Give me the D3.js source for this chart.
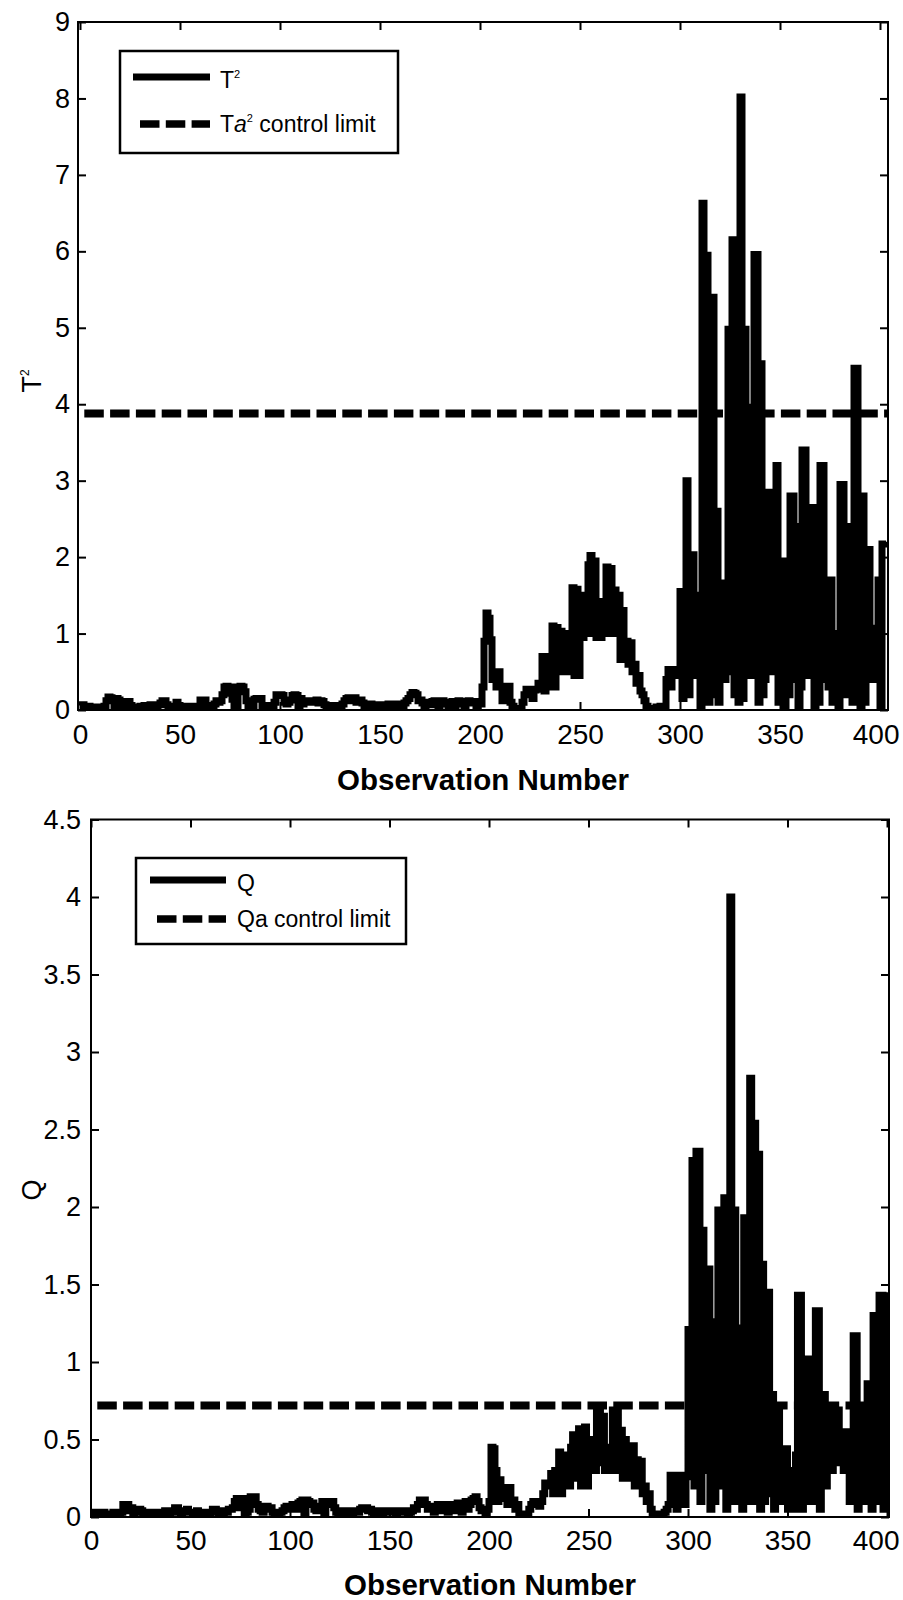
<!DOCTYPE html>
<html><head><meta charset="utf-8">
<script src="https://cdn.jsdelivr.net/npm/d3@7"></script>
<style>
body{margin:0;background:#fff}
svg{display:block}
text{font-family:'Liberation Sans',Arial,Helvetica,sans-serif;fill:#000;white-space:pre}
</style>
</head><body>
<svg id="c" width="903" height="1600"></svg>
<script>
// ---------- data ----------
const obsTicks = [0,50,100,150,200,250,300,350,400];
const t2Ticks = [0,1,2,3,4,5,6,7,8,9];
const qTicks = [0,0.5,1,1.5,2,2.5,3,3.5,4,4.5];
const t2Limit = 3.88;
const qLimit = 0.72;
const xLabel = "Observation Number";

const t2Values = [
0.06,0.07,0.05,0.04,0.05,0.03,0.03,0.04,0.02,0.03,
0.03,0.04,0.05,0.12,0.17,0.16,0.15,0.02,0.15,0.13,
0.08,0.05,0.11,0.1,0.11,0.06,0.04,0.03,0.02,0.04,
0.05,0.04,0.06,0.06,0.05,0.07,0.06,0.05,0.06,0.07,
0.09,0.12,0.12,0.07,0.05,0.04,0.04,0.05,0.1,0.06,
0.04,0.05,0.05,0.04,0.05,0.04,0.05,0.04,0.04,0.05,
0.13,0.12,0.13,0.06,0.05,0.06,0.04,0.08,0.12,0.1,
0.12,0.2,0.3,0.31,0.22,0.3,0.14,0.04,0.06,0.3,
0.31,0.3,0.24,0.12,0.05,0.04,0.06,0.14,0.15,0.14,
0.15,0.06,0.04,0.05,0.04,0.06,0.05,0.1,0.2,0.2,
0.2,0.19,0.1,0.08,0.1,0.13,0.19,0.2,0.19,0.03,
0.15,0.08,0.1,0.12,0.1,0.1,0.12,0.1,0.13,0.09,
0.12,0.11,0.07,0.05,0.06,0.04,0.05,0.05,0.06,0.04,
0.05,0.08,0.12,0.15,0.16,0.12,0.14,0.16,0.1,0.12,
0.13,0.09,0.05,0.06,0.04,0.08,0.06,0.05,0.07,0.06,
0.07,0.06,0.05,0.07,0.08,0.06,0.05,0.06,0.08,0.07,
0.06,0.05,0.09,0.12,0.15,0.2,0.23,0.22,0.2,0.12,
0.13,0.09,0.06,0.08,0.1,0.07,0.11,0.12,0.09,0.05,
0.1,0.12,0.08,0.1,0.06,0.1,0.11,0.05,0.1,0.12,
0.08,0.11,0.04,0.1,0.12,0.1,0.09,0.11,0.06,0.08,
0.08,0.3,0.9,1.27,1.2,0.92,0.4,0.5,0.3,0.5,
0.3,0.12,0.31,0.2,0.31,0.1,0.05,0.02,0.0,0.01,
0.02,0.1,0.2,0.27,0.25,0.27,0.15,0.26,0.27,0.35,
0.3,0.7,0.25,0.7,0.3,0.6,1.1,0.3,1.08,0.5,
1.03,0.5,1.0,0.5,0.55,1.0,1.6,0.45,1.58,0.45,
1.5,0.95,1.5,1.0,1.9,2.02,1.0,1.95,0.95,1.42,
0.95,1.3,1.0,1.87,1.05,1.85,1.0,1.57,1.0,1.5,
0.66,1.3,0.66,0.9,0.6,0.88,0.5,0.6,0.35,0.45,
0.25,0.2,0.12,0.05,0.0,0.01,0.0,0.02,0.04,0.02,
0.05,0.0,0.05,0.4,0.53,0.3,0.5,0.53,0.45,0.5,
1.55,0.15,0.6,3.0,0.2,0.9,2.03,0.45,0.5,1.5,
0.05,6.63,0.45,5.95,0.1,5.4,5.4,0.2,2.6,0.1,
0.6,1.66,0.4,0.5,4.98,0.5,6.15,0.2,3.1,0.1,
8.02,0.15,4.98,0.5,3.96,0.45,2.3,5.96,5.96,0.1,
4.53,0.2,0.4,1.2,2.85,0.5,0.6,1.5,3.2,0.1,
0.3,1.95,0.05,1.0,0.2,2.8,2.8,0.4,2.4,0.05,
0.3,3.4,3.4,0.45,0.5,1.6,2.65,0.05,0.8,0.1,
3.2,3.2,0.4,0.5,0.3,1.7,0.1,0.45,1.0,0.05,
2.95,2.95,0.2,0.45,2.4,0.5,0.1,4.47,4.47,0.2,
0.05,2.8,0.1,0.5,2.1,0.45,0.4,1.07,0.5,1.7,
0.05,2.17,2.17,2.2
];

const qValues = [
0.03,0.02,0.03,0.02,0.01,0.02,0.03,0.02,0.01,0.02,
0.02,0.03,0.02,0.01,0.02,0.03,0.08,0.07,0.08,0.04,
0.06,0.02,0.03,0.05,0.05,0.04,0.02,0.01,0.02,0.03,
0.02,0.03,0.02,0.03,0.03,0.02,0.03,0.04,0.03,0.02,
0.03,0.04,0.06,0.06,0.03,0.02,0.03,0.04,0.05,0.03,
0.03,0.02,0.03,0.04,0.02,0.03,0.02,0.03,0.02,0.02,
0.03,0.05,0.05,0.04,0.02,0.03,0.02,0.04,0.03,0.05,
0.05,0.06,0.1,0.12,0.11,0.06,0.12,0.02,0.03,0.05,
0.13,0.12,0.13,0.08,0.05,0.04,0.03,0.07,0.07,0.05,
0.06,0.03,0.02,0.03,0.02,0.03,0.04,0.06,0.07,0.05,
0.07,0.08,0.06,0.05,0.09,0.1,0.11,0.02,0.11,0.1,
0.08,0.09,0.05,0.04,0.06,0.07,0.1,0.02,0.09,0.1,
0.08,0.1,0.06,0.03,0.02,0.03,0.04,0.02,0.03,0.04,
0.03,0.02,0.03,0.04,0.03,0.05,0.06,0.05,0.06,0.04,
0.05,0.03,0.02,0.03,0.04,0.03,0.02,0.03,0.04,0.03,
0.03,0.04,0.03,0.02,0.03,0.04,0.03,0.04,0.03,0.02,
0.03,0.04,0.06,0.05,0.08,0.11,0.1,0.11,0.08,0.05,
0.07,0.05,0.03,0.06,0.08,0.07,0.04,0.08,0.06,0.03,
0.06,0.08,0.04,0.07,0.09,0.06,0.03,0.08,0.1,0.05,
0.08,0.11,0.12,0.13,0.1,0.06,0.04,0.05,0.02,0.05,
0.1,0.45,0.44,0.3,0.1,0.24,0.12,0.19,0.18,0.08,
0.19,0.1,0.11,0.05,0.08,0.02,0.01,0.0,0.01,0.02,
0.05,0.08,0.1,0.09,0.1,0.07,0.1,0.15,0.22,0.2,
0.2,0.28,0.15,0.3,0.2,0.42,0.15,0.4,0.2,0.34,
0.2,0.45,0.53,0.25,0.5,0.57,0.2,0.56,0.58,0.2,
0.45,0.3,0.5,0.3,0.71,0.71,0.35,0.65,0.3,0.4,
0.3,0.45,0.69,0.3,0.68,0.3,0.56,0.25,0.5,0.3,
0.46,0.25,0.46,0.2,0.37,0.2,0.36,0.15,0.2,0.1,
0.15,0.05,0.02,0.0,0.01,0.0,0.02,0.01,0.03,0.05,
0.08,0.27,0.1,0.25,0.05,0.27,0.12,0.27,0.08,0.26,
1.21,0.3,2.3,0.2,2.36,2.36,0.1,1.85,0.3,1.6,
1.6,0.05,1.26,0.1,0.5,1.98,1.98,0.2,2.06,0.05,
1.0,4.0,0.1,1.98,0.1,0.3,1.22,0.05,1.93,0.1,
0.5,2.83,0.1,2.54,0.2,2.34,0.05,1.63,0.1,1.45,
1.45,0.15,0.79,0.05,0.69,0.69,0.1,0.3,0.44,0.44,
0.05,0.3,0.2,0.05,0.4,1.43,1.43,0.05,0.5,0.1,
1.02,1.02,0.1,0.4,1.33,1.33,0.05,0.3,0.79,0.2,
0.72,0.72,0.3,0.5,0.69,0.69,0.35,0.4,0.3,0.55,
0.55,0.1,0.5,1.17,1.17,0.05,0.3,0.72,0.1,0.4,
0.86,0.86,0.05,1.3,1.3,0.1,1.43,1.43,0.05,1.3,
1.45
];

// ---------- drawing ----------
const svg = d3.select('#c');
const defs = svg.append('defs');
const FONT = "'Liberation Sans',Arial,Helvetica,sans-serif";
const DASH = "19.5,6.3";

function panel(o){
  const x = d3.scaleLinear().domain(o.xDomain).range([o.left, o.right]);
  const y = d3.scaleLinear().domain(o.yDomain).range([o.bottom, o.top]);
  const g = svg.append('g');
  const cid = 'clip' + o.id;
  defs.append('clipPath').attr('id', cid).append('rect')
    .attr('x', o.left).attr('y', o.top)
    .attr('width', o.right - o.left).attr('height', o.bottom - o.top);

  const line = d3.line().x((d, i) => x(i)).y(d => y(d)).curve(d3.curveStepAfter);
  g.append('path').datum(o.values).attr('d', line)
    .attr('fill', 'none').attr('stroke', '#000').attr('stroke-width', 7)
    .attr('stroke-linejoin', 'miter').attr('stroke-miterlimit', 10)
    .attr('clip-path', `url(#${cid})`);

  g.append('line')
    .attr('x1', x(o.xDomain[0])).attr('x2', x(o.xDomain[1]))
    .attr('y1', y(o.limit)).attr('y2', y(o.limit))
    .attr('stroke', '#000').attr('stroke-width', 8)
    .attr('stroke-dasharray', DASH).attr('stroke-dashoffset', 19.5)
    .attr('clip-path', `url(#${cid})`);

  const style = (a, fs) => {
    a.select('.domain').remove();
    a.selectAll('.tick line').attr('stroke', '#000').attr('stroke-width', 2);
    a.selectAll('text').attr('font-size', fs).attr('font-family', FONT).attr('fill', '#000');
    return a;
  };
  const bx = style(g.append('g').attr('transform', `translate(0,${o.bottom})`)
    .call(d3.axisBottom(x).tickValues(obsTicks).tickSize(-8).tickPadding(o.xPad).tickFormat(d3.format('d'))), 28);
  // keep last label inside the picture
  bx.selectAll('.tick').each(function(d){
    const t = d3.select(this).select('text');
    const bb = t.node().getBBox();
    const tx = x(d);
    if (tx + bb.x + bb.width > 900) t.attr('text-anchor','end').attr('x', 899 - tx);
  });
  style(g.append('g').attr('transform', `translate(0,${o.top})`)
    .call(d3.axisTop(x).tickValues(obsTicks).tickSize(-8).tickFormat('')), 28);
  style(g.append('g').attr('transform', `translate(${o.left},0)`)
    .call(d3.axisLeft(y).tickValues(o.yTicks).tickSize(-8).tickPadding(o.yPad).tickFormat(d => String(d))), 27);
  style(g.append('g').attr('transform', `translate(${o.right},0)`)
    .call(d3.axisRight(y).tickValues(o.yTicks).tickSize(-8).tickFormat('')), 27);

  g.append('rect').attr('x', o.left).attr('y', o.top)
    .attr('width', o.right - o.left).attr('height', o.bottom - o.top)
    .attr('fill', 'none').attr('stroke', '#000').attr('stroke-width', 2);

  g.append('text').attr('x', (o.left + o.right) / 2).attr('y', o.titleY)
    .attr('text-anchor', 'middle').attr('font-size', 29.5).attr('font-weight', 'bold')
    .text(xLabel);

  // y label
  const yl = g.append('text').attr('text-anchor', 'middle').attr('font-size', 27)
    .attr('transform', `translate(${o.yLabelX},${o.yLabelY}) rotate(-90)`);
  yl.append('tspan').text(o.yLabel);
  if (o.yLabelSup) yl.append('tspan').attr('font-size', 12).attr('dy', -12).text(o.yLabelSup);

  // legend
  const L = o.legend;
  const lg = g.append('g');
  lg.append('rect').attr('x', L.x).attr('y', L.y).attr('width', L.w).attr('height', L.h)
    .attr('fill', '#fff').attr('stroke', '#000').attr('stroke-width', 2.5);
  lg.append('line').attr('x1', L.lx1).attr('x2', L.lx2).attr('y1', L.y1).attr('y2', L.y1)
    .attr('stroke', '#000').attr('stroke-width', 7);
  lg.append('line').attr('x1', L.lx1 + 7).attr('x2', L.lx2).attr('y1', L.y2).attr('y2', L.y2)
    .attr('stroke', '#000').attr('stroke-width', 7.5).attr('stroke-dasharray', DASH);
  const t1 = lg.append('text').attr('x', L.tx).attr('y', L.y1 + 11).attr('font-size', 23);
  t1.append('tspan').text(L.name);
  if (L.nameSup) t1.append('tspan').attr('font-size', 11).attr('dy', -10).text(L.nameSup);
  const t2 = lg.append('text').attr('x', L.tx).attr('y', L.y2 + 8).attr('font-size', 23);
  t2.append('tspan').text(L.lim[0]);
  t2.append('tspan').attr('font-style', L.limItalic ? 'italic' : 'normal').text(L.lim[1]);
  if (L.limSup) {
    t2.append('tspan').attr('font-size', 11).attr('dy', -10).text(L.limSup);
    t2.append('tspan').attr('dy', 10).text(' control limit');
  } else {
    t2.append('tspan').text(' control limit');
  }
}

panel({
  id: 'T', values: t2Values, limit: t2Limit, yTicks: t2Ticks,
  xDomain: [-1, 404], yDomain: [0, 9],
  left: 78, right: 888, top: 22, bottom: 710,
  xPad: 14, yPad: 8, titleY: 790,
  yLabel: 'T', yLabelSup: '2', yLabelX: 41, yLabelY: 381,
  legend: {x: 120, y: 51, w: 278, h: 102, lx1: 133, lx2: 210, y1: 77, y2: 124, tx: 220,
           name: 'T', nameSup: '2', lim: ['T', 'a'], limItalic: true, limSup: '2'}
});

panel({
  id: 'Q', values: qValues, limit: qLimit, yTicks: qTicks,
  xDomain: [0, 401], yDomain: [0, 4.5],
  left: 91, right: 889, top: 819.5, bottom: 1517,
  xPad: 13, yPad: 10, titleY: 1595,
  yLabel: 'Q', yLabelSup: null, yLabelX: 41, yLabelY: 1190,
  legend: {x: 136, y: 858, w: 270, h: 86, lx1: 150, lx2: 226, y1: 880, y2: 919, tx: 237,
           name: 'Q', nameSup: null, lim: ['Q', 'a'], limItalic: false, limSup: null}
});
</script>
</body></html>
